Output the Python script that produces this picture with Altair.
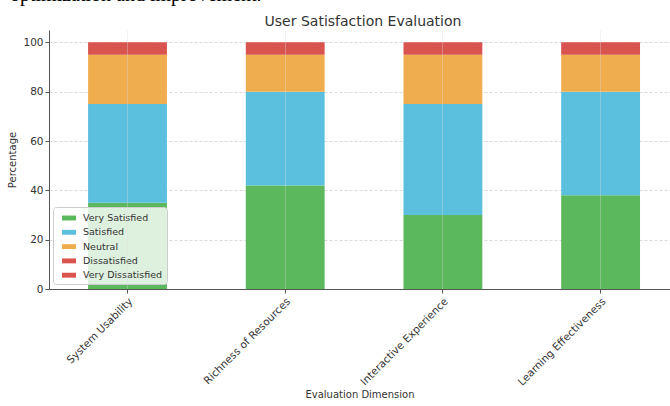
import altair as alt
import pandas as pd

categories = ["System Usability", "Richness of Resources", "Interactive Experience", "Learning Effectiveness"]
levels = ["Very Satisfied", "Satisfied", "Neutral", "Dissatisfied", "Very Dissatisfied"]
colors = ["#5cb85c", "#5bc0de", "#f0ad4e", "#d9534f", "#d9534f"]

very_satisfied = [35, 42, 30, 38]
satisfied = [40, 38, 45, 42]
neutral = [20, 15, 20, 15]
dissatisfied = [5, 5, 5, 5]
very_dissatisfied = [0, 0, 0, 0]

y_ticks = [0, 20, 40, 60, 80, 100]
chart_title = "User Satisfaction Evaluation"
top_text = "optimization and improvement."

series = [very_satisfied, satisfied, neutral, dissatisfied, very_dissatisfied]
rows = []
for li, (lev, vals) in enumerate(zip(levels, series)):
    for cat, v in zip(categories, vals):
        rows.append({"dimension": cat, "level": lev, "value": v, "ord": li})
df = pd.DataFrame(rows)

font = "DejaVu Sans"

bars = alt.Chart(df).mark_bar().encode(
    x=alt.X(
        "dimension:N",
        sort=categories,
        scale=alt.Scale(paddingInner=0.5, paddingOuter=0.219, align=0.566),
        axis=alt.Axis(
            title="Evaluation Dimension",
            labelAngle=-45,
            labelAlign="right",
            labelBaseline="top",
            labelPadding=3,
            grid=True,
            gridColor="#dddddd",
            gridOpacity=0.35,
            zindex=1,
            bandPosition=0.5,
            titlePadding=2,
        ),
    ),
    y=alt.Y(
        "value:Q",
        stack="zero",
        scale=alt.Scale(domain=[0, 105], nice=False),
        axis=alt.Axis(
            title="Percentage",
            values=y_ticks,
            grid=True,
            gridDash=[3, 2],
            gridColor="#cccccc",
            gridOpacity=0.7,
            titlePadding=5,
        ),
    ),
    color=alt.Color(
        "level:N",
        sort=levels,
        scale=alt.Scale(domain=levels, range=colors),
        legend=alt.Legend(
            title=None,
            orient="none",
            legendX=4,
            legendY=177,
            fillColor="rgba(255,255,255,0.8)",
            strokeColor="#cccccc",
            cornerRadius=3,
            padding=4,
            symbolOffset=5,
            symbolType="M-1,-0.35H1V0.35H-1Z",
            symbolSize=196,
            symbolStrokeWidth=0,
            symbolOpacity=1,
            labelFont=font,
            labelFontSize=9.5,
            labelColor="#333333",
            rowPadding=2.3,
            labelOffset=7,
        ),
    ),
    order=alt.Order("ord:Q"),
)

top = alt.Chart(pd.DataFrame({"t": [top_text]})).mark_text(
    align="left", baseline="alphabetic", font="Liberation Serif", fontSize=20, color="#000000"
).encode(text="t:N", x=alt.value(-39), y=alt.value(-29))

ttl = alt.Chart(pd.DataFrame({"t": [chart_title]})).mark_text(
    align="center", baseline="alphabetic", font=font, fontSize=14, color="#333333"
).encode(text="t:N", x=alt.value(314), y=alt.value(-4))

chart = alt.layer(bars, top, ttl).properties(
    width=621,
    height=259,
    padding={"left": 49, "top": 30, "right": 0, "bottom": 117},
    autosize=alt.AutoSizeParams(type="none"),
).configure_view(stroke=None).configure_axis(
    labelFont=font,
    titleFont=font,
    labelFontSize=10.5,
    titleFontSize=10,
    titleFontWeight="normal",
    labelColor="#333333",
    titleColor="#333333",
    domainColor="#555555",
    tickColor="#555555",
    tickSize=4,
)

chart.save("out.html", embed_options={"renderer": "svg", "actions": False})
